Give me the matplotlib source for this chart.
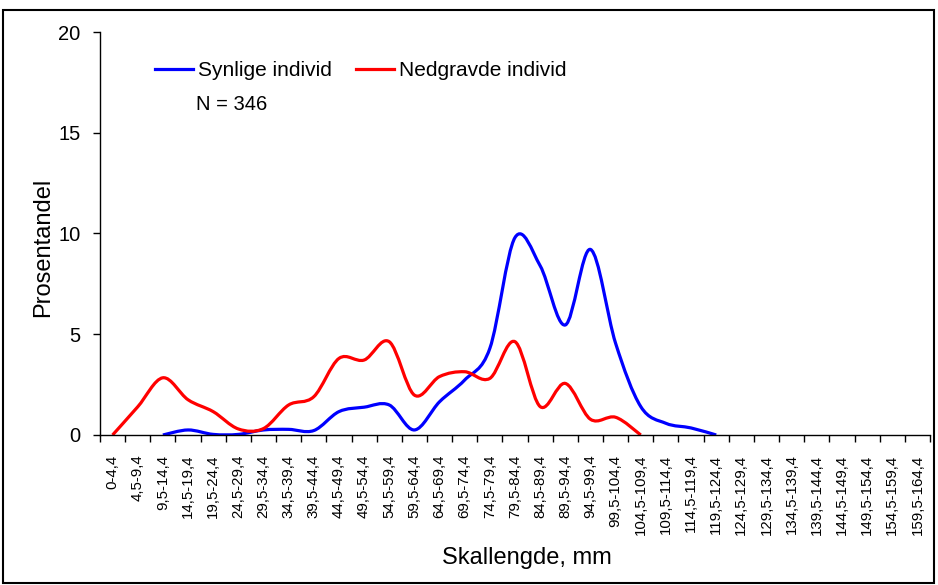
import numpy as np
import matplotlib
matplotlib.use("Agg")
import matplotlib.pyplot as plt
from matplotlib.path import Path
from matplotlib.patches import PathPatch, Rectangle

plt.rcParams['font.family'] = ['Liberation Sans', 'DejaVu Sans']

categories = ["0-4,4", "4,5-9,4", "9,5-14,4", "14,5-19,4", "19,5-24,4", "24,5-29,4",
              "29,5-34,4", "34,5-39,4", "39,5-44,4", "44,5-49,4", "49,5-54,4", "54,5-59,4",
              "59,5-64,4", "64,5-69,4", "69,5-74,4", "74,5-79,4", "79,5-84,4", "84,5-89,4",
              "89,5-94,4", "94,5-99,4", "99,5-104,4", "104,5-109,4", "109,5-114,4",
              "114,5-119,4", "119,5-124,4", "124,5-129,4", "129,5-134,4", "134,5-139,4",
              "139,5-144,4", "144,5-149,4", "149,5-154,4", "154,5-159,4", "159,5-164,4"]

# Synlige individ: categories 2..24
synlige_start = 2
synlige = [0.0, 0.25, 0.03, 0.03, 0.25, 0.28, 0.22, 1.16, 1.38, 1.49, 0.25, 1.65,
           2.73, 4.3, 9.8, 8.4, 5.46, 9.21, 4.55, 1.41, 0.58, 0.35, 0.0]

# Nedgravde individ: categories 0..21
nedgravde_start = 0
nedgravde = [0.0, 1.4, 2.84, 1.75, 1.16, 0.3, 0.32, 1.49, 1.9, 3.8, 3.72, 4.63,
             1.98, 2.9, 3.14, 2.81, 4.63, 1.41, 2.56, 0.78, 0.88, 0.0]

series_names = ["Synlige individ", "Nedgravde individ"]
colors = ["#0000FF", "#FF0000"]
n_text = "N = 346"


def smooth_path(xs, ys):
    xs = np.asarray(xs, float)
    ys = np.asarray(ys, float)
    pts = np.column_stack([xs, ys])
    n = len(pts)
    verts = [pts[0]]
    codes = [Path.MOVETO]
    for i in range(n - 1):
        p0 = pts[i - 1] if i > 0 else pts[i]
        p1 = pts[i]
        p2 = pts[i + 1]
        p3 = pts[i + 2] if i + 2 < n else pts[i + 1]
        c1 = p1 + (p2 - p0) / 6.0
        c2 = p2 - (p3 - p1) / 6.0
        verts += [c1, c2, p2]
        codes += [Path.CURVE4] * 3
    return Path(verts, codes)


fig = plt.figure(figsize=(9.38, 5.85), dpi=100)
ax = fig.add_axes([100 / 938, 1 - 435 / 585, 830 / 938, (435 - 32) / 585])

ncat = len(categories)
ax.set_xlim(0, ncat)
ax.set_ylim(0, 20)

for start, vals, col, name in [(synlige_start, synlige, colors[0], series_names[0]),
                                (nedgravde_start, nedgravde, colors[1], series_names[1])]:
    xs = np.arange(start, start + len(vals)) + 0.5
    patch = PathPatch(smooth_path(xs, vals), facecolor='none', edgecolor=col,
                      lw=2.3, capstyle='butt', joinstyle='round')
    ax.add_patch(patch)
    ax.plot([], [], color=col, lw=2.3, label=name)

for s in ['top', 'right']:
    ax.spines[s].set_visible(False)
for s in ['left', 'bottom']:
    ax.spines[s].set_linewidth(1.0)

ax.set_yticks([0, 5, 10, 15, 20])
ax.tick_params(axis='y', direction='out', length=5, width=1, labelsize=14.5, pad=9)
ax.set_xticks(np.arange(ncat) + 0.5)
ax.set_xticklabels(categories, rotation=90, fontsize=10.8)
ax.set_xticks(np.arange(ncat + 1), minor=True)
ax.tick_params(axis='x', which='major', length=0, pad=14)
ax.tick_params(axis='x', which='minor', direction='out', length=5, width=1)

ax.set_xlabel("Skallengde, mm", fontsize=17)
ax.xaxis.set_label_coords((527 - 100) / 830, -(547 - 435) / 403)
ax.set_ylabel("Prosentandel", fontsize=17)
ax.yaxis.set_label_coords(-(100 - 54) / 830, (435 - 247) / 403)

leg = ax.legend(loc='upper left', bbox_to_anchor=(0.044, 0.975), ncol=2, frameon=False,
                fontsize=15, handlelength=1.83, handletextpad=0.24, columnspacing=1.15)
ax.text(196 / 938, 1 - 104 / 585, n_text, transform=fig.transFigure, fontsize=14.5,
        va='center', ha='left')

fig.patches.append(Rectangle((3 / 938, 2 / 585), 931 / 938, 573 / 585, transform=fig.transFigure,
                             fill=False, edgecolor='black', lw=1.5))

fig.savefig("out.png", dpi=100)
